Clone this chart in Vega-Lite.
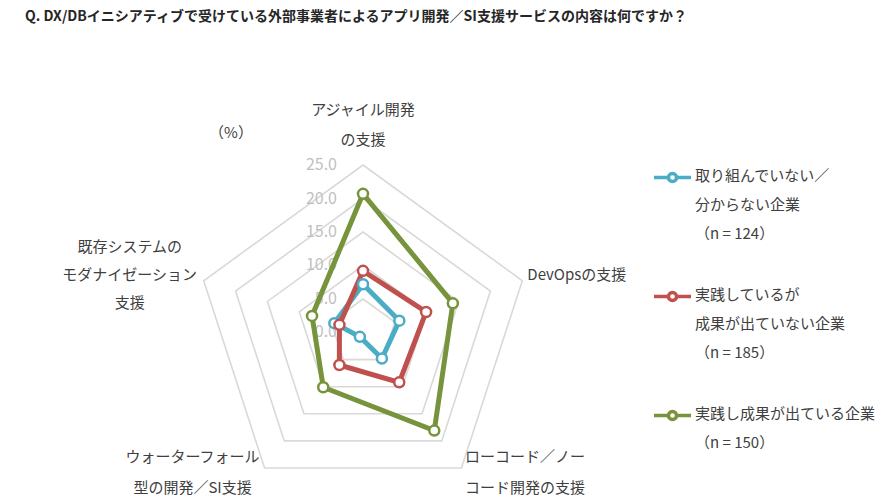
{
  "$schema": "https://vega.github.io/schema/vega-lite/v6.json",
  "width": 896,
  "height": 504,
  "autosize": {"type": "none"},
  "padding": 0,
  "background": "white",
  "title": {
    "text": "Q. DX/DBイニシアティブで受けている外部事業者によるアプリ開発／SI支援サービスの内容は何ですか？",
    "anchor": "start",
    "dx": 25,
    "dy": 24,
    "offset": 0,
    "font": "Noto Sans CJK JP",
    "fontSize": 14,
    "fontWeight": "bold",
    "color": "#262626"
  },
  "config": {"view": {"stroke": null}, "font": "Noto Sans CJK JP"},
  "datasets": {
    "axes": [
      {"axis": "アジャイル開発の支援", "k": 0, "label": "アジャイル開発\nの支援"},
      {"axis": "DevOpsの支援", "k": 1, "label": "DevOpsの支援"},
      {"axis": "ローコード／ノーコード開発の支援", "k": 2, "label": "ローコード／ノー\nコード開発の支援"},
      {"axis": "ウォーターフォール型の開発／SI支援", "k": 3, "label": "ウォーターフォール\n型の開発／SI支援"},
      {"axis": "既存システムのモダナイゼーション支援", "k": 4, "label": "既存システムの\nモダナイゼーション\n支援"}
    ],
    "rings": [
      {"ring": 5, "ks": [0, 1, 2, 3, 4]},
      {"ring": 10, "ks": [0, 1, 2, 3, 4]},
      {"ring": 15, "ks": [0, 1, 2, 3, 4]},
      {"ring": 20, "ks": [0, 1, 2, 3, 4]},
      {"ring": 25, "ks": [0, 1, 2, 3, 4]}
    ],
    "ticks": [{"v": 0}, {"v": 5}, {"v": 10}, {"v": 15}, {"v": 20}, {"v": 25}],
    "main": [
      {"series": "取り組んでいない／\n分からない企業\n（n = 124）", "axis": "アジャイル開発の支援", "value": 7.2},
      {"series": "取り組んでいない／\n分からない企業\n（n = 124）", "axis": "DevOpsの支援", "value": 5.7},
      {"series": "取り組んでいない／\n分からない企業\n（n = 124）", "axis": "ローコード／ノーコード開発の支援", "value": 4.8},
      {"series": "取り組んでいない／\n分からない企業\n（n = 124）", "axis": "ウォーターフォール型の開発／SI支援", "value": 0.8},
      {"series": "取り組んでいない／\n分からない企業\n（n = 124）", "axis": "既存システムのモダナイゼーション支援", "value": 4.5},
      {"series": "実践しているが\n成果が出ていない企業\n（n = 185）", "axis": "アジャイル開発の支援", "value": 9.2},
      {"series": "実践しているが\n成果が出ていない企業\n（n = 185）", "axis": "DevOpsの支援", "value": 9.9},
      {"series": "実践しているが\n成果が出ていない企業\n（n = 185）", "axis": "ローコード／ノーコード開発の支援", "value": 9.2},
      {"series": "実践しているが\n成果が出ていない企業\n（n = 185）", "axis": "ウォーターフォール型の開発／SI支援", "value": 6.0},
      {"series": "実践しているが\n成果が出ていない企業\n（n = 185）", "axis": "既存システムのモダナイゼーション支援", "value": 3.7},
      {"series": "実践し成果が出ている企業\n（n = 150）", "axis": "アジャイル開発の支援", "value": 20.7},
      {"series": "実践し成果が出ている企業\n（n = 150）", "axis": "DevOpsの支援", "value": 14.1},
      {"series": "実践し成果が出ている企業\n（n = 150）", "axis": "ローコード／ノーコード開発の支援", "value": 18.1},
      {"series": "実践し成果が出ている企業\n（n = 150）", "axis": "ウォーターフォール型の開発／SI支援", "value": 10.1},
      {"series": "実践し成果が出ている企業\n（n = 150）", "axis": "既存システムのモダナイゼーション支援", "value": 8.0}
    ],
    "unit": [{"unit": "（%）", "ux": -19.7, "uy": 29.78}]
  },
  "encoding": {
    "x": {"field": "x", "type": "quantitative", "scale": {"domain": [-54.18, 79.55], "nice": false, "zero": false}, "axis": null},
    "y": {"field": "y", "type": "quantitative", "scale": {"domain": [-25.6, 49.63], "nice": false, "zero": false}, "axis": null}
  },
  "layer": [
    {
      "data": {"name": "rings"},
      "transform": [
        {"flatten": ["ks"], "as": ["k"]},
        {"calculate": "datum.ring * sin(datum.k * 2 * PI / 5)", "as": "x"},
        {"calculate": "datum.ring * cos(datum.k * 2 * PI / 5)", "as": "y"}
      ],
      "mark": {"type": "line", "interpolate": "linear-closed", "color": "#d9d9d9", "strokeWidth": 1.6},
      "encoding": {"detail": {"field": "ring"}, "order": {"field": "k", "type": "quantitative"}}
    },
    {
      "data": {"name": "ticks"},
      "transform": [
        {"calculate": "0", "as": "x"},
        {"calculate": "datum.v", "as": "y"}
      ],
      "mark": {"type": "text", "align": "right", "baseline": "middle", "dx": -26, "fontSize": 16, "color": "#bfbfbf"},
      "encoding": {"text": {"field": "v", "type": "quantitative", "format": ".1f"}}
    },
    {
      "data": {"name": "main"},
      "transform": [
        {"lookup": "axis", "from": {"data": {"name": "axes"}, "key": "axis", "fields": ["k"]}},
        {"calculate": "datum.value * sin(datum.k * 2 * PI / 5)", "as": "x"},
        {"calculate": "datum.value * cos(datum.k * 2 * PI / 5)", "as": "y"}
      ],
      "layer": [
        {
          "mark": {"type": "line", "interpolate": "linear-closed", "strokeWidth": 5},
          "encoding": {
            "color": {
              "field": "series",
              "type": "nominal",
              "sort": null,
              "scale": {
                "domain": ["取り組んでいない／\n分からない企業\n（n = 124）", "実践しているが\n成果が出ていない企業\n（n = 185）", "実践し成果が出ている企業\n（n = 150）"],
                "range": ["#4bacc6", "#c0504d", "#77933c"]
              },
              "legend": {
                "title": null,
                "orient": "none",
                "legendX": 652,
                "legendY": 157,
                "symbolType": "M-1,0H-0.22M0.22,0H1M-0.22,0A0.22,0.22,0,1,1,0.22,0A0.22,0.22,0,1,1,-0.22,0Z",
                "symbolSize": 1369,
                "symbolStrokeWidth": 3.5,
                "symbolFillColor": "white",
                "labelExpr": "split(datum.label, '\\n')",
                "labelFont": "Noto Sans CJK JP",
                "labelFontSize": 15,
                "labelColor": "#404040",
                "labelOffset": 2,
                "labelLimit": 400,
                "labelBaseline": "top",
                "rowPadding": 34,
                "encode": {
                  "symbols": {"update": {"fill": {"value": "white"}, "strokeWidth": {"value": 3.5}}},
                  "labels": {"update": {"lineHeight": {"value": 29}, "dy": {"value": -9}}}
                }
              }
            },
            "detail": {"field": "series"},
            "order": {"field": "k", "type": "quantitative"}
          }
        },
        {
          "mark": {"type": "point", "filled": true, "fill": "white", "size": 100, "strokeWidth": 2.5, "opacity": 1},
          "encoding": {
            "stroke": {
              "field": "series",
              "type": "nominal",
              "scale": {
                "domain": ["取り組んでいない／\n分からない企業\n（n = 124）", "実践しているが\n成果が出ていない企業\n（n = 185）", "実践し成果が出ている企業\n（n = 150）"],
                "range": ["#4bacc6", "#c0504d", "#77933c"]
              },
              "legend": null
            }
          }
        }
      ]
    },
    {
      "data": {"name": "axes"},
      "transform": [
        {"calculate": "split(datum.label, '\\n')", "as": "lines"},
        {"calculate": "25 * sin(datum.k * 2 * PI / 5)", "as": "x"},
        {"calculate": "25 * cos(datum.k * 2 * PI / 5)", "as": "y"}
      ],
      "layer": [
        {"transform": [{"filter": "datum.k == 0"}], "mark": {"type": "text", "align": "center", "baseline": "middle", "dy": -55, "lineHeight": 30, "fontSize": 15, "color": "#404040"}, "encoding": {"text": {"field": "lines"}}},
        {"transform": [{"filter": "datum.k == 1"}], "mark": {"type": "text", "align": "left", "baseline": "middle", "dx": 5, "dy": -6, "lineHeight": 30, "fontSize": 15, "color": "#404040"}, "encoding": {"text": {"field": "lines"}}},
        {"transform": [{"filter": "datum.k == 2"}], "mark": {"type": "text", "align": "center", "baseline": "middle", "dx": 63.5, "dy": -11, "lineHeight": 31, "fontSize": 15, "color": "#404040"}, "encoding": {"text": {"field": "lines"}}},
        {"transform": [{"filter": "datum.k == 3"}], "mark": {"type": "text", "align": "center", "baseline": "middle", "dx": -72, "dy": -11, "lineHeight": 31, "fontSize": 15, "color": "#404040"}, "encoding": {"text": {"field": "lines"}}},
        {"transform": [{"filter": "datum.k == 4"}], "mark": {"type": "text", "align": "center", "baseline": "middle", "dx": -74, "dy": -34, "lineHeight": 28, "fontSize": 15, "color": "#404040"}, "encoding": {"text": {"field": "lines"}}}
      ]
    },
    {
      "data": {"name": "unit"},
      "transform": [
        {"calculate": "datum.ux", "as": "x"},
        {"calculate": "datum.uy", "as": "y"}
      ],
      "mark": {"type": "text", "align": "center", "baseline": "middle", "fontSize": 15, "color": "#404040"},
      "encoding": {"text": {"field": "unit"}}
    }
  ]
}
